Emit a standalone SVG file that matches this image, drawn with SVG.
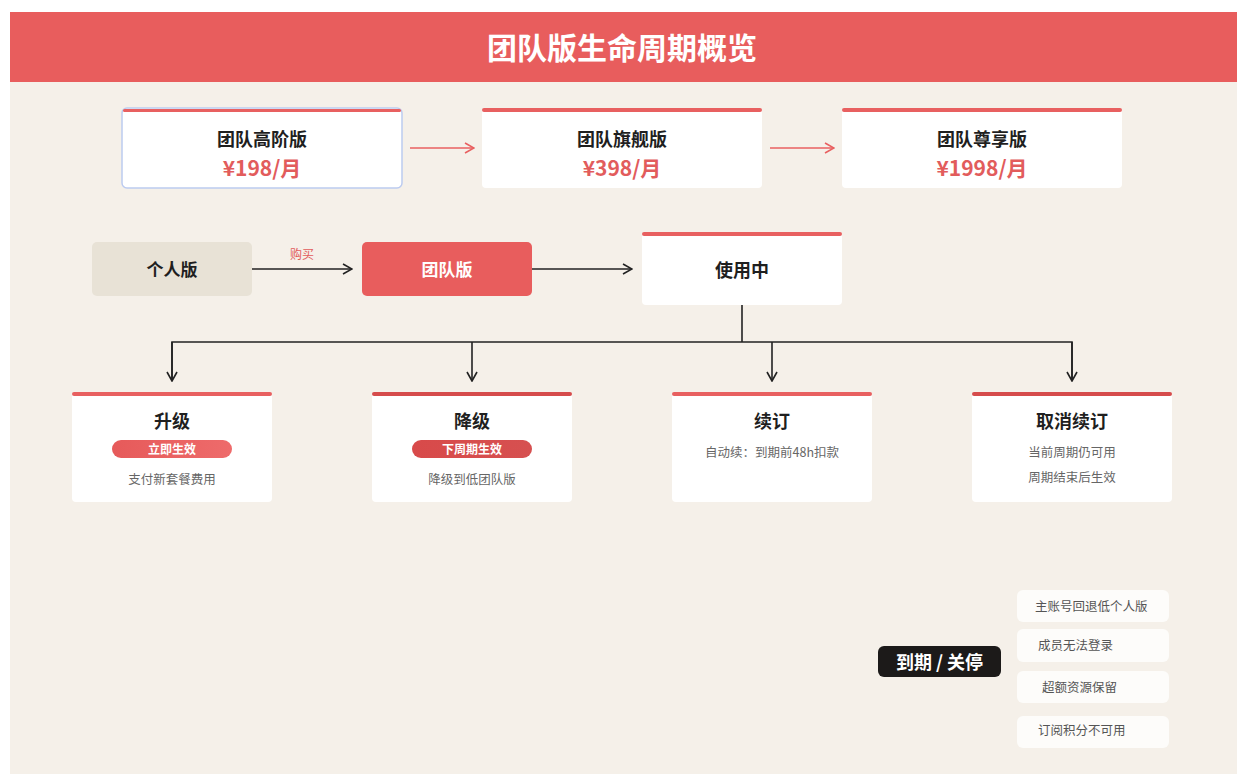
<svg xmlns="http://www.w3.org/2000/svg" width="1259" height="784" viewBox="0 0 1259 784">
<defs>
<style>
text{font-family:"Noto Sans CJK SC","Noto Sans",sans-serif;text-anchor:middle;dominant-baseline:central}
.card{fill:#ffffff}
.bar{fill:#e86060}
.bar2{fill:#d64c4c}
.t{font-size:18px;font-weight:700;fill:#1f1f1f}
.price{font-size:21px;font-weight:700;fill:#e25c5c}
.desc{font-size:12.5px;fill:#666}
.badge{font-size:12px;font-weight:700;fill:#fff}
.note{fill:#fdfcfa}
.ntext{font-size:12.5px;fill:#555;text-anchor:start}
.dark{stroke:#222;stroke-width:1.6;fill:none}
.red{stroke:#e86060;stroke-width:1.6;fill:none}
</style>
<marker id="ad" viewBox="0 0 12 12" refX="11" refY="6" markerWidth="12" markerHeight="12" markerUnits="userSpaceOnUse" orient="auto">
<path d="M2,1 L11,6 L2,11" fill="none" stroke="#222" stroke-width="1.6"/>
</marker>
<marker id="ar" viewBox="0 0 12 12" refX="11" refY="6" markerWidth="12" markerHeight="12" markerUnits="userSpaceOnUse" orient="auto">
<path d="M2,1 L11,6 L2,11" fill="none" stroke="#e86060" stroke-width="1.6"/>
</marker>
<linearGradient id="g1" x1="0" x2="1"><stop offset="0" stop-color="#e65a5a"/><stop offset="1" stop-color="#ee6b6b"/></linearGradient>
<linearGradient id="g2" x1="0" x2="1"><stop offset="0" stop-color="#d84a4a"/><stop offset="1" stop-color="#d65050"/></linearGradient>
</defs>
<rect x="0" y="0" width="1259" height="784" fill="#ffffff"/>
<rect x="10" y="82" width="1227" height="692" fill="#f5f0e9"/>
<g id="header">
<rect x="10" y="12" width="1227" height="70" fill="#e85d5d"/>
<text x="622" y="46" style="font-size:30px;font-weight:700;fill:#fff">团队版生命周期概览</text>
</g>

<g id="connectors">
<line class="red" x1="410" y1="148" x2="474" y2="148" marker-end="url(#ar)"/>
<line class="red" x1="770" y1="148" x2="834" y2="148" marker-end="url(#ar)"/>
<line class="dark" x1="252" y1="269" x2="352" y2="269" marker-end="url(#ad)"/>
<text x="302" y="253" style="font-size:12px;fill:#e25c5c">购买</text>
<line class="dark" x1="532" y1="269" x2="632" y2="269" marker-end="url(#ad)"/>
<path class="dark" d="M742,305 V342"/>
<path class="dark" d="M172,381 V342 H1072 V381"/>
<line class="dark" x1="172" y1="342" x2="172" y2="381" marker-end="url(#ad)"/>
<line class="dark" x1="472" y1="342" x2="472" y2="381" marker-end="url(#ad)"/>
<line class="dark" x1="772" y1="342" x2="772" y2="381" marker-end="url(#ad)"/>
<line class="dark" x1="1072" y1="342" x2="1072" y2="381" marker-end="url(#ad)"/>
</g>

<g id="plan-advanced">
<rect class="card" x="122" y="108" width="280" height="80" rx="5" stroke="#bccbf0" stroke-width="1.5"/>
<rect class="bar" x="123" y="109" width="278" height="3" rx="1.5"/>
<text class="t" x="262" y="138">团队高阶版</text>
<text class="price" x="262" y="167">¥198/月</text>
</g>
<g id="plan-flagship">
<rect class="card" x="482" y="108" width="280" height="80" rx="4"/>
<rect class="bar" x="482" y="108" width="280" height="4" rx="2"/>
<text class="t" x="622" y="138">团队旗舰版</text>
<text class="price" x="622" y="167">¥398/月</text>
</g>
<g id="plan-premium">
<rect class="card" x="842" y="108" width="280" height="80" rx="4"/>
<rect class="bar" x="842" y="108" width="280" height="4" rx="2"/>
<text class="t" x="982" y="138">团队尊享版</text>
<text class="price" x="982" y="167">¥1998/月</text>
</g>

<g id="personal">
<rect x="92" y="242" width="160" height="54" rx="5" fill="#e8e2d6"/>
<text class="t" x="172" y="268" style="font-size:17px">个人版</text>
</g>
<g id="team">
<rect x="362" y="242" width="170" height="54" rx="5" fill="#e85d5d"/>
<text x="447" y="268" style="font-size:17px;font-weight:700;fill:#fff">团队版</text>
</g>
<g id="inuse">
<rect class="card" x="642" y="232" width="200" height="73" rx="4"/>
<rect class="bar" x="642" y="232" width="200" height="4" rx="2"/>
<text class="t" x="742" y="269">使用中</text>
</g>

<g id="upgrade">
<rect class="card" x="72" y="392" width="200" height="110" rx="4"/>
<rect class="bar" x="72" y="392" width="200" height="4" rx="2"/>
<text class="t" x="172" y="420">升级</text>
<rect x="112" y="440" width="120" height="18" rx="9" fill="url(#g1)"/>
<text class="badge" x="172" y="448.5">立即生效</text>
<text class="desc" x="172" y="478">支付新套餐费用</text>
</g>
<g id="downgrade">
<rect class="card" x="372" y="392" width="200" height="110" rx="4"/>
<rect class="bar2" x="372" y="392" width="200" height="4" rx="2"/>
<text class="t" x="472" y="420">降级</text>
<rect x="412" y="440" width="120" height="18" rx="9" fill="url(#g2)"/>
<text class="badge" x="472" y="448.5">下周期生效</text>
<text class="desc" x="472" y="478">降级到低团队版</text>
</g>
<g id="renew">
<rect class="card" x="672" y="392" width="200" height="110" rx="4"/>
<rect class="bar" x="672" y="392" width="200" height="4" rx="2"/>
<text class="t" x="772" y="420">续订</text>
<text class="desc" x="772" y="451">自动续：到期前48h扣款</text>
</g>
<g id="cancel">
<rect class="card" x="972" y="392" width="200" height="110" rx="4"/>
<rect class="bar2" x="972" y="392" width="200" height="4" rx="2"/>
<text class="t" x="1072" y="420">取消续订</text>
<text class="desc" x="1072" y="451">当前周期仍可用</text>
<text class="desc" x="1072" y="476">周期结束后生效</text>
</g>

<g id="expire">
<rect x="878" y="646" width="123" height="31" rx="6" fill="#1c1a19"/>
<text x="939.5" y="660.5" style="font-size:18px;font-weight:700;fill:#fff">到期 / 关停</text>
</g>
<g id="note1">
<rect class="note" x="1017" y="590" width="152" height="32" rx="6"/>
<text class="ntext" x="1035" y="605">主账号回退低个人版</text>
</g>
<g id="note2">
<rect class="note" x="1017" y="629" width="152" height="33" rx="6"/>
<text class="ntext" x="1038" y="644">成员无法登录</text>
</g>
<g id="note3">
<rect class="note" x="1017" y="671" width="152" height="32" rx="6"/>
<text class="ntext" x="1042" y="686">超额资源保留</text>
</g>
<g id="note4">
<rect class="note" x="1017" y="716" width="152" height="32" rx="6"/>
<text class="ntext" x="1038" y="729">订阅积分不可用</text>
</g>
</svg>
